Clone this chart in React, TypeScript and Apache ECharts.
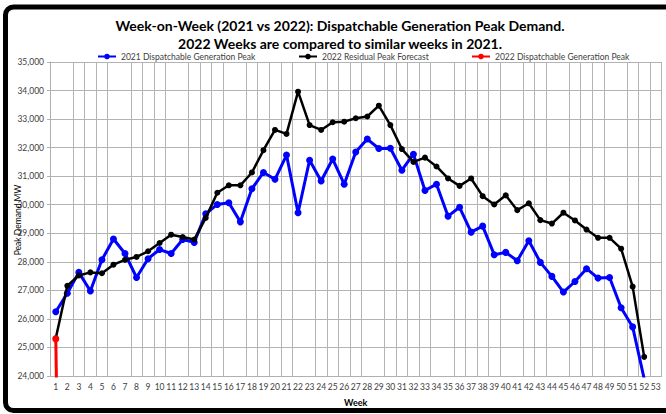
import React, { useEffect, useRef } from "react";
import * as echarts from "echarts";

const weeks: string[] = Array.from({ length: 53 }, (_, i) => String(i + 1));

const disp2021: (number | null)[] = [
  26250, 26900, 27630, 26980, 28070, 28800, 28290, 27450, 28110, 28430,
  28290, 28780, 28680, 29680, 30010, 30070, 29400, 30560, 31130, 30890,
  31740, 29720, 31560, 30830, 31600, 30720, 31850, 32300, 31970, 31980,
  31210, 31770, 30500, 30720, 29600, 29910, 29040, 29250, 28250, 28330,
  28040, 28740, 27980, 27490, 26940, 27310, 27760, 27430, 27450, 26390,
  25720, 23900, null,
];

const resid2022: (number | null)[] = [
  25320, 27160, 27520, 27630, 27600, 27900, 28070, 28170, 28370, 28660,
  28950, 28870, 28780, 29540, 30420, 30680, 30680, 31130, 31910, 32620,
  32480, 33960, 32790, 32620, 32890, 32910, 33030, 33090, 33470, 32790,
  31950, 31500, 31650, 31340, 30920, 30660, 30920, 30300, 30010, 30330,
  29810, 30050, 29460, 29340, 29720, 29450, 29130, 28840, 28840, 28460,
  27130, 24670, null,
];

const disp2022: (number | null)[] = [25300, 0];

const seriesNames = [
  "2021 Dispatchable Generation Peak",
  "2022 Residual Peak Forecast",
  "2022 Dispatchable Generation Peak",
];

const hiddenGridIdx = new Set([1, 6, 11, 16, 22, 28, 34, 40, 44, 49]);

const titleLines = [
  "Week-on-Week (2021 vs 2022): Dispatchable Generation Peak Demand.",
  "2022 Weeks are compared to similar weeks in 2021.",
];

const yAxisTitle = "Peak Demand MW";
const xAxisTitle = "Week";

const FONT = "Lato, 'Open Sans', sans-serif";

export default function App() {
  const ref = useRef<HTMLDivElement>(null);
  useEffect(() => {
    if (!ref.current) return;
    const chart = echarts.init(ref.current, undefined, { renderer: "svg" });
    const legendText = { fontSize: 8.5, color: "#404040", fontFamily: FONT };
    const legendBase = {
      top: 52,
      itemWidth: 18,
      itemHeight: 7,
      itemGap: 4,
      textStyle: legendText,
      padding: 0,
    };
    chart.setOption({
      animation: false,
      backgroundColor: "#ffffff",
      textStyle: { fontFamily: FONT },
      graphic: [
        {
          type: "rect",
          shape: { x: 5.5, y: 7, width: 720, height: 403.5, r: 8 },
          style: { fill: "none", stroke: "#000", lineWidth: 5 },
          z: 100,
        },
        {
          type: "text",
          x: 340,
          y: 25,
          style: {
            text: titleLines[0],
            fontSize: 14,
            fontWeight: "bold",
            fontFamily: FONT,
            fill: "#000",
            textAlign: "center",
            textVerticalAlign: "middle",
          },
        },
        {
          type: "text",
          x: 340,
          y: 43,
          style: {
            text: titleLines[1],
            fontSize: 14,
            fontWeight: "bold",
            fontFamily: FONT,
            fill: "#000",
            textAlign: "center",
            textVerticalAlign: "middle",
          },
        },
        {
          type: "text",
          x: 18,
          y: 220,
          rotation: Math.PI / 2,
          style: {
            text: yAxisTitle,
            fontSize: 8.5,
            fontFamily: FONT,
            fill: "#000",
            textAlign: "center",
            textVerticalAlign: "middle",
          },
          z: 50,
        },
      ],
      legend: [
        { ...legendBase, data: [seriesNames[0]], left: 97 },
        { ...legendBase, data: [seriesNames[1]], left: 298 },
        { ...legendBase, data: [seriesNames[2]], left: 471 },
      ],
      grid: {
        left: 50,
        top: 62,
        right: 4.5,
        bottom: 38,
        containLabel: false,
        outerBoundsMode: "none",
      },
      xAxis: {
        type: "category",
        data: weeks,
        boundaryGap: true,
        name: xAxisTitle,
        nameLocation: "middle",
        nameGap: 22,
        nameTextStyle: { fontSize: 9, fontWeight: "bold", color: "#000", fontFamily: FONT },
        axisLine: { show: true, lineStyle: { color: "#b0b0b0" } },
        axisTick: { show: false },
        axisLabel: { interval: 0, fontSize: 8.5, color: "#404040", margin: 6, fontFamily: FONT },
        splitLine: {
          show: true,
          interval: (index: number) => !hiddenGridIdx.has(index),
          lineStyle: { color: "#b3b3b3", width: 1 },
        },
      },
      yAxis: {
        type: "value",
        min: 24000,
        max: 35000,
        interval: 1000,
        axisLine: { show: true, lineStyle: { color: "#b0b0b0" } },
        axisTick: { show: true, length: 3, lineStyle: { color: "#b0b0b0" } },
        axisLabel: {
          fontSize: 8.5,
          color: "#404040",
          margin: 6,
          fontFamily: FONT,
          formatter: (v: number) => v.toLocaleString("en-US"),
        },
        splitLine: { show: true, lineStyle: { color: "#b3b3b3", width: 1 } },
      },
      series: [
        {
          name: seriesNames[0],
          type: "line",
          data: disp2021,
          clip: true,
          symbol: "circle",
          symbolSize: 7,
          itemStyle: { color: "#0000ff" },
          lineStyle: { color: "#0000ff", width: 3 },
          z: 3,
        },
        {
          name: seriesNames[1],
          type: "line",
          data: resid2022,
          clip: true,
          symbol: "circle",
          symbolSize: 6,
          itemStyle: { color: "#000000" },
          lineStyle: { color: "#000000", width: 2.5 },
          z: 4,
        },
        {
          name: seriesNames[2],
          type: "line",
          data: disp2022,
          clip: true,
          symbol: "circle",
          symbolSize: 7,
          itemStyle: { color: "#ff0000" },
          lineStyle: { color: "#ff0000", width: 3 },
          z: 5,
        },
      ],
    });
    return () => chart.dispose();
  }, []);
  return (
    <div
      ref={ref}
      style={{ position: "fixed", left: 0, top: 0, width: 666, height: 414, background: "#fff" }}
    />
  );
}
